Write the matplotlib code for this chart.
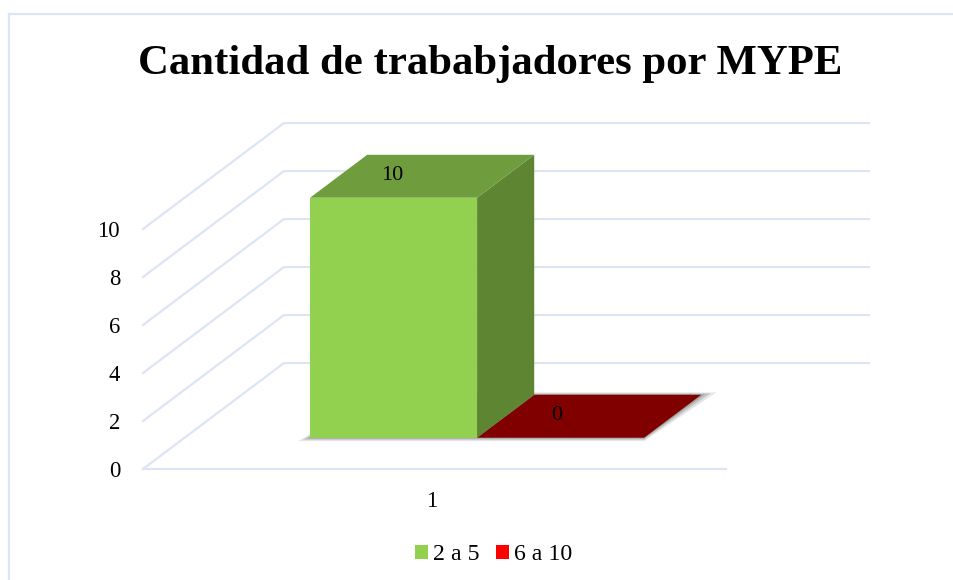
import matplotlib
matplotlib.use("Agg")
import matplotlib.pyplot as plt
from matplotlib.lines import Line2D
from matplotlib.patches import Patch, Polygon
from matplotlib.transforms import ScaledTranslation

plt.rcParams['font.family'] = ['Liberation Serif', 'DejaVu Serif']

title = "Cantidad de trababjadores por MYPE"
categories = [1]
series_names = ["2 a 5", "6 a 10"]
series_values = [[10], [0]]
front_colors = ["#92d050", "#ff0000"]
top_colors = ["#6f9c3c", "#800000"]
side_colors = ["#5e8532", "#600000"]
y_ticks = [0, 2, 4, 6, 8, 10]
grid_color = "#dbe5f4"

W, H = 954, 580
fig = plt.figure(figsize=(W / 100, H / 100), dpi=100, facecolor="white")
# front plane of the oblique 3D box, in pixels: x 143-726, y 469-229
ax = fig.add_axes([143 / W, 1 - 469 / H, 583 / W, 240 / H])
ax.set_xlim(0.5, 1.5)
ax.set_ylim(0, 10)
ax.patch.set_alpha(0)
for s in ax.spines.values():
    s.set_visible(False)

# oblique projection: depth 0 = front plane, depth 1 = back wall
DX = 141 / 583
DV = 106 / 24


def proj(x, v, d):
    return (x + d * DX, v + d * DV)


# walls and gridlines
X0, X1 = 0.5, 1.5 + 2 / 583
for v in y_ticks:
    pts = [proj(X0, v, 0), proj(X0, v, 1), proj(X1, v, 1)]
    ax.plot(*zip(*pts), color=grid_color, lw=1.6, clip_on=False, zorder=1,
            solid_joinstyle="miter")
ax.plot([X0, 1.5], [0, 0], color=grid_color, lw=1.6, clip_on=False, zorder=1)

width = 0.2865
d0, d1 = 0.295, 0.70
bar_shift = 1 / 583
lefts = [c - width + bar_shift for c in categories] + [c + bar_shift for c in categories]


def poly(pts, color, z, alpha=1.0):
    ax.add_patch(Polygon(pts, closed=True, facecolor=color, edgecolor="none",
                         alpha=alpha, clip_on=False, zorder=z))


# soft floor shadow
for grow, a in [(1.0, 0.18), (0.6, 0.28), (0.25, 0.38)]:
    xl = lefts[0] - 0.02 * grow
    xr = lefts[1] + width
    v_lo = -0.14 * grow
    poly([proj(xl, v_lo, d0), proj(xr, v_lo, d0),
          proj(xr + 0.026 * grow, 0.1 * grow, d1), proj(lefts[0] + 0.02, 0.1 * grow, d1)],
         "#707070", 2, a)

# draw the back/right bar first so the green one overlaps it
for i in [1, 0]:
    x, v = lefts[i], series_values[i][0]
    if v > 0:
        poly([proj(x, 0, d0), proj(x + width, 0, d0),
              proj(x + width, v, d0), proj(x, v, d0)], front_colors[i], 5)
        poly([proj(x + width, 0, d0), proj(x + width, 0, d1),
              proj(x + width, v, d1), proj(x + width, v, d0)], side_colors[i], 5)
    poly([proj(x, v, d0), proj(x + width, v, d0),
          proj(x + width, v, d1), proj(x, v, d1)], top_colors[i], 4 if v == 0 else 5)

# data labels
for i, off in enumerate([(-1, 16), (-3, 16)]):
    x, v = lefts[i] + width / 2, series_values[i][0]
    ax.annotate(str(v), xy=proj(x, v, d0), xytext=off, textcoords="offset points",
                ha="center", va="center", fontsize=16, color="black", zorder=6,
                annotation_clip=False)

ax.set_xticks(categories)
ax.set_yticks(y_ticks)
ax.tick_params(axis="both", length=0, labelsize=16.3, labelcolor="black")
ax.tick_params(axis="y", pad=16.5)
ax.tick_params(axis="x", pad=15.5)
for lab in ax.get_xticklabels():
    lab.set_transform(lab.get_transform() + ScaledTranslation(-2.5 / 100, 0, fig.dpi_scale_trans))

fig.text(490 / W, 1 - 64 / H, title, ha="center", va="center",
         fontsize=30.8, fontweight="bold", color="black")

handles = [Patch(facecolor=c, edgecolor="none") for c in front_colors]
fig.legend(handles, series_names, loc="center", bbox_to_anchor=(493.5 / W, 1 - 555 / H),
           ncols=2, frameon=False, fontsize=17.2, handlelength=0.55, handleheight=0.55,
           handletextpad=0.2, columnspacing=0.7)

# chart-area border (only top and left are inside the crop)
fig.add_artist(Line2D([9.5 / W, 9.5 / W], [0, 1 - 14 / H], color="#dae6f5", lw=1.6,
                      transform=fig.transFigure))
fig.add_artist(Line2D([9 / W, 1], [1 - 14 / H, 1 - 14 / H], color="#dae6f5", lw=1.6,
                      transform=fig.transFigure))

fig.savefig("out.png", dpi=100)
